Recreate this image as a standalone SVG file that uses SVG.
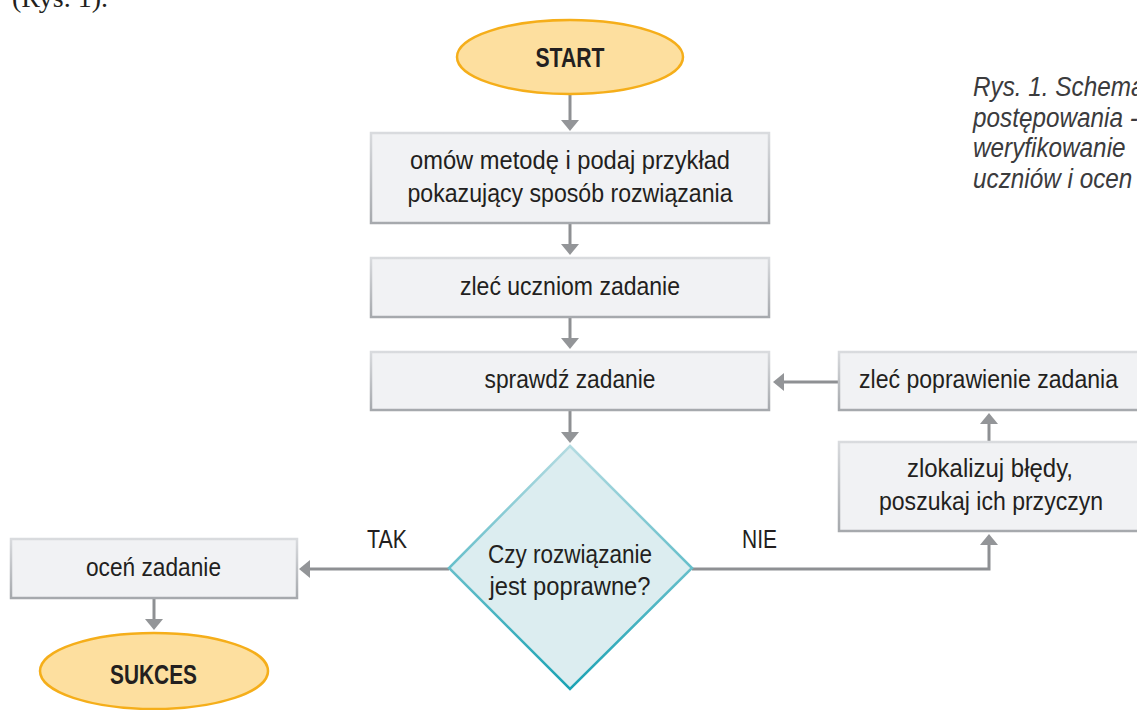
<svg xmlns="http://www.w3.org/2000/svg" width="1137" height="710" viewBox="0 0 1137 710">
<style>
.box{fill:#f1f2f4;stroke:url(#boxStroke);stroke-width:2.5}
.oval{fill:#fddf9f;stroke:#f5ae1a;stroke-width:2.5}
.dia{fill:#dcedf0;stroke:url(#diaStroke);stroke-width:2.5}
.t{font-family:"Liberation Sans Narrow","Liberation Sans",Arial,sans-serif;font-size:25px;fill:#231f20;text-anchor:middle}
.b{font-family:"Liberation Sans Narrow","Liberation Sans",Arial,sans-serif;font-size:28px;font-weight:bold;fill:#231f20;text-anchor:middle}
.cap{font-family:"Liberation Sans",Arial,sans-serif;font-size:27px;font-style:italic;fill:#3b3b3d}
.con{fill:none;stroke:#8e9093;stroke-width:3;marker-end:url(#arr)}
</style>
<defs>
<linearGradient id="boxStroke" x1="0" y1="0" x2="0" y2="1">
<stop offset="0" stop-color="#d9dbde"/>
<stop offset="1" stop-color="#a6a9ad"/>
</linearGradient>
<linearGradient id="diaStroke" x1="0" y1="0" x2="0" y2="1">
<stop offset="0" stop-color="#b3dbe1"/>
<stop offset="1" stop-color="#1ba3b4"/>
</linearGradient>
<marker id="arr" markerUnits="userSpaceOnUse" viewBox="0 0 11 18" markerWidth="11" markerHeight="18" refX="8" refY="9" orient="auto">
<path d="M0,0 L11,9 L0,18 z" fill="#939598"/>
</marker>
</defs>
<rect width="1137" height="710" fill="#ffffff"/>

<text x="12" y="7" font-family="'Liberation Serif','Times New Roman',serif" font-size="27" fill="#231f20" textLength="96" lengthAdjust="spacingAndGlyphs">(Rys. 1).</text>

<g id="caption" transform="translate(973,0) scale(0.9,1)">
<text class="cap" x="0" y="96">Rys. 1. Schema</text>
<text class="cap" x="0" y="127">postępowania -</text>
<text class="cap" x="0" y="157">weryfikowanie</text>
<text class="cap" x="0" y="188">uczniów i ocen</text>
</g>

<g id="connectors">
<path class="con" d="M570,95 V128"/>
<path class="con" d="M570,223 V252"/>
<path class="con" d="M570,317 V346"/>
<path class="con" d="M570,410 V440"/>
<path class="con" d="M449,569 H302"/>
<path class="con" d="M692,569 H989 V537"/>
<path class="con" d="M989,442 V416"/>
<path class="con" d="M839,382 H776"/>
<path class="con" d="M154,598 V627"/>
</g>

<g id="start">
<ellipse class="oval" cx="570" cy="57" rx="113" ry="37"/>
<text class="b" x="570" y="67" textLength="69" lengthAdjust="spacingAndGlyphs">START</text>
</g>

<g id="omow">
<rect class="box" x="371" y="133" width="398" height="90"/>
<text class="t" x="570" y="169" textLength="320" lengthAdjust="spacingAndGlyphs">omów metodę i podaj przykład</text>
<text class="t" x="570" y="202" textLength="325" lengthAdjust="spacingAndGlyphs">pokazujący sposób rozwiązania</text>
</g>

<g id="zlec">
<rect class="box" x="371" y="258" width="398" height="59"/>
<text class="t" x="570" y="295" textLength="220" lengthAdjust="spacingAndGlyphs">zleć uczniom zadanie</text>
</g>

<g id="sprawdz">
<rect class="box" x="371" y="352" width="398" height="58"/>
<text class="t" x="570" y="388" textLength="171" lengthAdjust="spacingAndGlyphs">sprawdź zadanie</text>
</g>

<g id="decyzja">
<path class="dia" d="M570,446 L692,568 L570,689 L449,568 Z"/>
<text class="t" x="570" y="563" textLength="164" lengthAdjust="spacingAndGlyphs">Czy rozwiązanie</text>
<text class="t" x="570" y="595" textLength="161" lengthAdjust="spacingAndGlyphs">jest poprawne?</text>
</g>

<g id="labels">
<text class="t" x="387" y="548" textLength="40" lengthAdjust="spacingAndGlyphs">TAK</text>
<text class="t" x="759.5" y="548" textLength="35" lengthAdjust="spacingAndGlyphs">NIE</text>
</g>

<g id="ocen">
<rect class="box" x="11" y="539" width="286" height="59"/>
<text class="t" x="153.5" y="576" textLength="135" lengthAdjust="spacingAndGlyphs">oceń zadanie</text>
</g>

<g id="sukces">
<ellipse class="oval" cx="154" cy="671" rx="114" ry="38"/>
<text class="b" x="153.5" y="684" textLength="87" lengthAdjust="spacingAndGlyphs">SUKCES</text>
</g>

<g id="poprawienie">
<rect class="box" x="839" y="352" width="300" height="58"/>
<text class="t" x="988.5" y="388" textLength="259" lengthAdjust="spacingAndGlyphs">zleć poprawienie zadania</text>
</g>

<g id="zlokalizuj">
<rect class="box" x="839" y="442" width="300" height="89"/>
<text class="t" x="990" y="477" textLength="166" lengthAdjust="spacingAndGlyphs">zlokalizuj błędy,</text>
<text class="t" x="991" y="510" textLength="224" lengthAdjust="spacingAndGlyphs">poszukaj ich przyczyn</text>
</g>
</svg>
